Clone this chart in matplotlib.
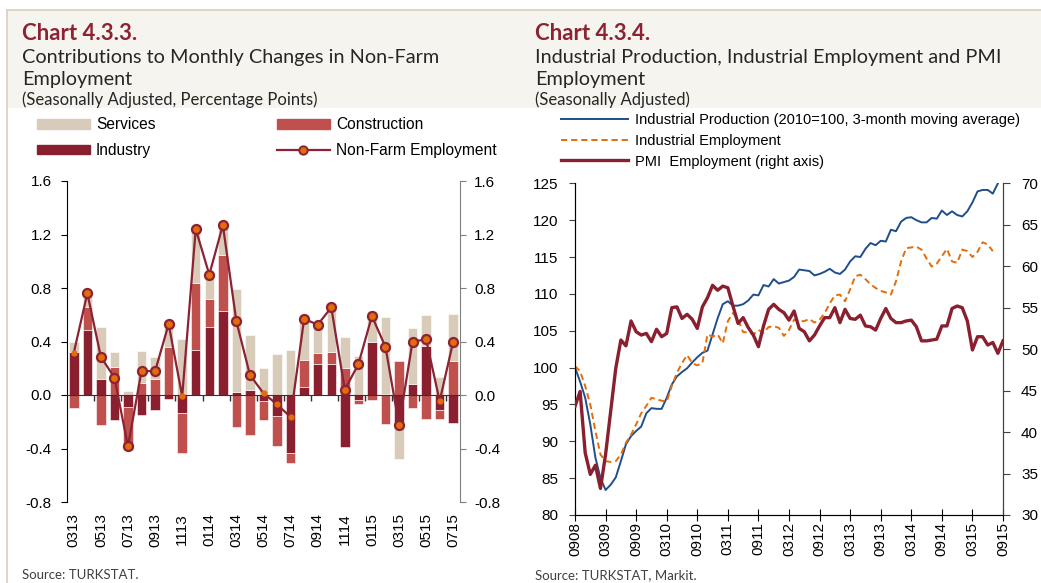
import numpy as np
import pandas as pd
import matplotlib
matplotlib.use('Agg')
import matplotlib.pyplot as plt
from matplotlib.patches import Rectangle, Patch
from matplotlib.lines import Line2D

plt.rcParams['axes.unicode_minus'] = False
plt.rcParams['font.family'] = ['Liberation Sans', 'DejaVu Sans']

# ---- Chart 4.3.3 data (contributions, percentage points) ----
months_left = ['0313', '0413', '0513', '0613', '0713', '0813', '0913', '1013', '1113', '1213',
               '0114', '0214', '0314', '0414', '0514', '0614', '0714', '0814', '0914', '1014',
               '1114', '1214', '0115', '0215', '0315', '0415', '0515', '0615', '0715']
industry = [0.32, 0.485, 0.12, -0.19, -0.09, -0.15, -0.11, -0.03, -0.135, 0.34,
            0.51, 0.63, 0.025, 0.04, -0.045, -0.16, -0.435, 0.0625, 0.235, 0.23,
            -0.39, -0.035, 0.40, 0.005, -0.205, 0.085, 0.37, -0.11, -0.21]
construction = [-0.095, 0.17, -0.225, 0.21, -0.32, 0.09, 0.12, 0.36, -0.30, 0.50,
                0.205, 0.415, -0.24, -0.30, -0.145, -0.22, -0.07, 0.20, 0.08, 0.09,
                0.20, -0.03, -0.035, -0.22, 0.255, -0.10, -0.18, -0.07, 0.255]
services = [0.08, 0.10, 0.385, 0.11, 0.03, 0.24, 0.165, 0.20, 0.42, 0.40,
            0.185, 0.22, 0.765, 0.41, 0.20, 0.31, 0.34, 0.315, 0.215, 0.335,
            0.23, 0.29, 0.225, 0.575, -0.275, 0.415, 0.23, 0.135, 0.35]
nonfarm = [0.315, 0.76, 0.285, 0.13, -0.385, 0.18, 0.178, 0.53, -0.01, 1.24,
           0.90, 1.27, 0.55, 0.15, 0.0125, -0.07, -0.165, 0.57, 0.525, 0.655,
           0.04, 0.23, 0.59, 0.36, -0.225, 0.40, 0.415, -0.045, 0.40]
small_pts = [0, 8, 14, 15, 16, 27]   # points drawn with a small marker

# ---- Chart 4.3.4 data ----
months_right = list(pd.period_range('2008-09', '2015-09', freq='M').strftime('%m%y'))
ind_prod = [100.0, 98.1, 95.9, 92.3, 87.8, 85.0, 83.4, 84.1, 85.1, 87.3,
            89.6, 90.7, 91.4, 92.0, 93.8, 94.5, 94.4, 94.4, 95.9, 97.7,
            98.8, 99.4, 99.9, 100.7, 101.4, 102.0, 102.3, 104.5, 106.7, 108.6,
            109.0, 108.4, 108.4, 108.6, 109.1, 109.9, 109.8, 111.2, 111.0, 112.0,
            111.4, 111.6, 111.8, 112.3, 113.3, 113.2, 113.1, 112.5, 112.7, 113.0,
            113.4, 112.9, 112.7, 113.3, 114.4, 115.1, 115.0, 116.1, 116.9, 116.6,
            117.2, 117.1, 118.7, 118.5, 119.8, 120.3, 120.4, 120.0, 119.7, 119.7,
            120.3, 120.2, 121.3, 120.7, 121.2, 120.7, 120.5, 121.2, 122.4, 123.9,
            124.1, 124.1, 123.6, 125.0]
ind_emp = [100.2, 99.5, 97.5, 95.0, 91.4, 88.2, 87.3, 87.2, 87.3, 88.2,
           89.8, 90.9, 92.3, 93.8, 94.8, 95.9, 95.7, 95.5, 95.4, 97.5,
           99.3, 100.6, 101.7, 100.6, 100.3, 100.6, 104.5, 104.2, 104.5, 103.3,
           106.3, 107.4, 106.5, 104.8, 104.8, 104.5, 105.1, 104.7, 105.5, 105.6,
           105.4, 104.3, 105.1, 106.5, 106.3, 106.3, 106.6, 106.1, 106.5, 107.4,
           108.7, 109.8, 109.9, 109.0, 110.6, 112.4, 112.6, 112.0, 111.3, 110.8,
           110.4, 110.2, 109.9, 111.7, 114.4, 116.2, 116.3, 116.4, 116.0, 114.8,
           113.7, 114.1, 115.1, 116.1, 114.4, 114.2, 116.0, 115.8, 115.0, 115.7,
           117.0, 116.7, 115.8]
pmi_emp = [43.1, 44.9, 37.5, 34.9, 36.0, 33.2, 37.3, 42.5, 47.7, 51.1,
           50.4, 53.4, 52.1, 51.7, 51.9, 50.9, 52.4, 51.5, 51.9, 55.0,
           55.1, 53.7, 54.2, 53.6, 52.5, 55.1, 56.2, 57.7, 57.1, 57.6,
           57.4, 55.2, 53.1, 53.8, 52.6, 51.7, 50.3, 52.8, 54.8, 55.4,
           54.8, 54.4, 53.5, 54.6, 52.5, 52.1, 51.0, 51.7, 52.8, 53.8,
           53.8, 55.0, 53.2, 54.8, 53.7, 53.6, 54.1, 52.8, 52.7, 52.3,
           53.7, 54.9, 53.7, 53.2, 53.2, 53.4, 53.5, 52.7, 51.0, 51.0,
           51.1, 51.2, 52.8, 52.8, 54.9, 55.2, 55.0, 53.4, 49.9, 51.5,
           51.5, 50.5, 50.8, 49.5, 51.0]

c_ser = '#D9CBBA'
c_con = '#C0504D'
c_ind = '#8A1F2F'
c_line = '#8B2332'
c_orange = '#E46C0A'
c_blue = '#1F4E8A'
title_col = '#8B2332'
txt_col = '#262626'

W, H = 1041, 583
fig = plt.figure(figsize=(W / 100, H / 100), dpi=100)


def fx(px):
    return px / W


def fy(py):
    return 1 - py / H


# title band and frame
fig.patches.append(Rectangle((fx(7), fy(108)), 1, fy(10) - fy(108), transform=fig.transFigure,
                             facecolor='#F6F4EE', edgecolor='none', zorder=0))
fig.add_artist(Line2D([fx(7), 1], [fy(10), fy(10)], color='#D8CFBF', lw=1.2))
fig.add_artist(Line2D([fx(7), fx(7)], [fy(10), 0], color='#D8CFBF', lw=1.2))

for x0, num, sub1, sub2, sub3, src in [
        (22, 'Chart 4.3.3.', 'Contributions to Monthly Changes in Non-Farm', 'Employment',
         '(Seasonally Adjusted, Percentage Points)', 'Source: TURKSTAT.'),
        (535, 'Chart 4.3.4.', 'Industrial Production, Industrial Employment and PMI', 'Employment',
         '(Seasonally Adjusted)', 'Source: TURKSTAT, Markit.')]:
    fig.text(fx(x0), fy(33), num, family='Lato', weight='bold', fontsize=16, color=title_col, va='center')
    fig.text(fx(x0), fy(57), sub1, family='Lato', fontsize=14.3, color=txt_col, va='center')
    fig.text(fx(x0), fy(79), sub2, family='Lato', fontsize=14.3, color=txt_col, va='center')
    fig.text(fx(x0), fy(100), sub3, family='Lato', fontsize=12, color=txt_col, va='center')
    fig.text(fx(x0), fy(575), src, family='Lato', fontsize=9.5, color='#404040', va='center')

# ---------------- left chart ----------------
ax1 = fig.add_axes([fx(67), fy(502), fx(460) - fx(67), fy(181) - fy(502)])
x = np.arange(len(months_left))
pos_base = np.zeros(len(x))
neg_base = np.zeros(len(x))
for vals, col in [(industry, c_ind), (construction, c_con), (services, c_ser)]:
    vals = np.array(vals)
    bottom = np.where(vals >= 0, pos_base, neg_base)
    ax1.bar(x, vals, 0.7, bottom=bottom, color=col, edgecolor='white', linewidth=0.4, zorder=2)
    pos_base += np.clip(vals, 0, None)
    neg_base += np.clip(vals, None, 0)

nf = np.array(nonfarm)
big = np.array([i not in small_pts for i in x])
ax1.plot(x, nf, color=c_line, lw=1.6, zorder=4)
ax1.plot(x[big], nf[big], 'o', ms=6.5, mfc=c_orange, mec=c_line, mew=1.6, ls='none', zorder=5)
ax1.plot(x[~big], nf[~big], 'o', ms=3.5, mfc=c_orange, mec=c_orange, ls='none', zorder=5)

ax1.set_xlim(-0.5, len(x) - 0.5)
ax1.set_ylim(-0.8, 1.6)
yt = np.arange(-0.8, 1.61, 0.4)
ax1.set_yticks(yt, ['%.1f' % v for v in yt])
ax1.spines['top'].set_visible(False)
ax1.spines['right'].set_visible(False)
ax1.spines['bottom'].set_position(('data', 0))
ax1.spines['bottom'].set_color('#333333')
ax1.set_xticks(np.arange(1.5, len(x) - 1, 2))
ax1.set_xticklabels([])
ax1.tick_params(axis='x', direction='out', length=4, width=1, color='#333333')
ax1.tick_params(axis='y', direction='out', length=4, labelsize=11, pad=7)

sec = ax1.secondary_xaxis(0)
sec.set_xticks(x[::2], months_left[::2], rotation=90)
sec.tick_params(length=0, labelsize=11, pad=8)
sec.spines['bottom'].set_visible(False)

ax1r = ax1.twinx()
ax1r.set_ylim(-0.8, 1.6)
ax1r.set_yticks(yt, ['%.1f' % v for v in yt])
for s in ['top', 'left', 'bottom']:
    ax1r.spines[s].set_visible(False)
ax1r.spines['right'].set_color('#7F7F7F')
ax1r.tick_params(axis='y', direction='out', length=4, color='#7F7F7F', labelsize=11, pad=6)

leg_kw = dict(frameon=False, fontsize=11.2, handlelength=3.4, handleheight=0.6, handletextpad=0.4,
              labelspacing=0.7, borderpad=0, borderaxespad=0, loc='center left')
fig.legend(handles=[Patch(color=c_ser), Patch(color=c_ind)], labels=['Services', 'Industry'],
           bbox_to_anchor=(fx(37), fy(137.5)), **leg_kw)
fig.legend(handles=[Patch(color=c_con),
                    Line2D([], [], color=c_line, lw=1.6, marker='o', ms=6, mfc=c_orange, mec=c_line, mew=1.4)],
           labels=['Construction', 'Non-Farm Employment'],
           bbox_to_anchor=(fx(277), fy(137.5)), **leg_kw)

# ---------------- right chart ----------------
ax2 = fig.add_axes([fx(575), fy(515), fx(1003) - fx(575), fy(183.3) - fy(515)])
xr = np.arange(len(months_right))
ax2.plot(xr[:len(ind_prod)], ind_prod, color=c_blue, lw=1.4, zorder=3)
ax2.plot(xr[:len(ind_emp)], ind_emp, color=c_orange, lw=1.4, ls=(0, (3.2, 2)), zorder=3)
ax2.set_xlim(0, len(months_right) - 1)
ax2.set_ylim(80, 125)
ax2.set_yticks(np.arange(80, 126, 5))
ax2.set_xticks(xr[::6], [months_right[i] for i in xr[::6]], rotation=90)
ax2.spines['top'].set_visible(False)
ax2.spines['left'].set_color('#404040')
ax2.spines['right'].set_color('#404040')
ax2.tick_params(axis='x', direction='inout', length=8, labelsize=11, pad=1)
ax2.tick_params(axis='y', direction='out', length=4, labelsize=11, pad=8, color='#404040')

ax2r = ax2.twinx()
ax2r.plot(xr[:len(pmi_emp)], pmi_emp, color=c_ind, lw=2.4, zorder=4)
ax2r.set_ylim(30, 70)
ax2r.set_yticks(np.arange(30, 71, 5))
ax2r.spines['top'].set_visible(False)
ax2r.spines['right'].set_color('#404040')
ax2r.tick_params(axis='y', direction='out', length=5, labelsize=11, pad=8, color='#404040')

fig.legend(handles=[Line2D([], [], color=c_blue, lw=1.4),
                    Line2D([], [], color=c_orange, lw=1.4, ls=(0, (3.2, 2))),
                    Line2D([], [], color=c_ind, lw=2.4)],
           labels=['Industrial Production (2010=100, 3-month moving average)',
                   'Industrial Employment', 'PMI  Employment (right axis)'],
           loc='center left', bbox_to_anchor=(fx(561), fy(141)), frameon=False, fontsize=10.5,
           handlelength=4.6, handletextpad=0.5, labelspacing=0.45, borderpad=0, borderaxespad=0)

fig.savefig('out.png', dpi=100)
